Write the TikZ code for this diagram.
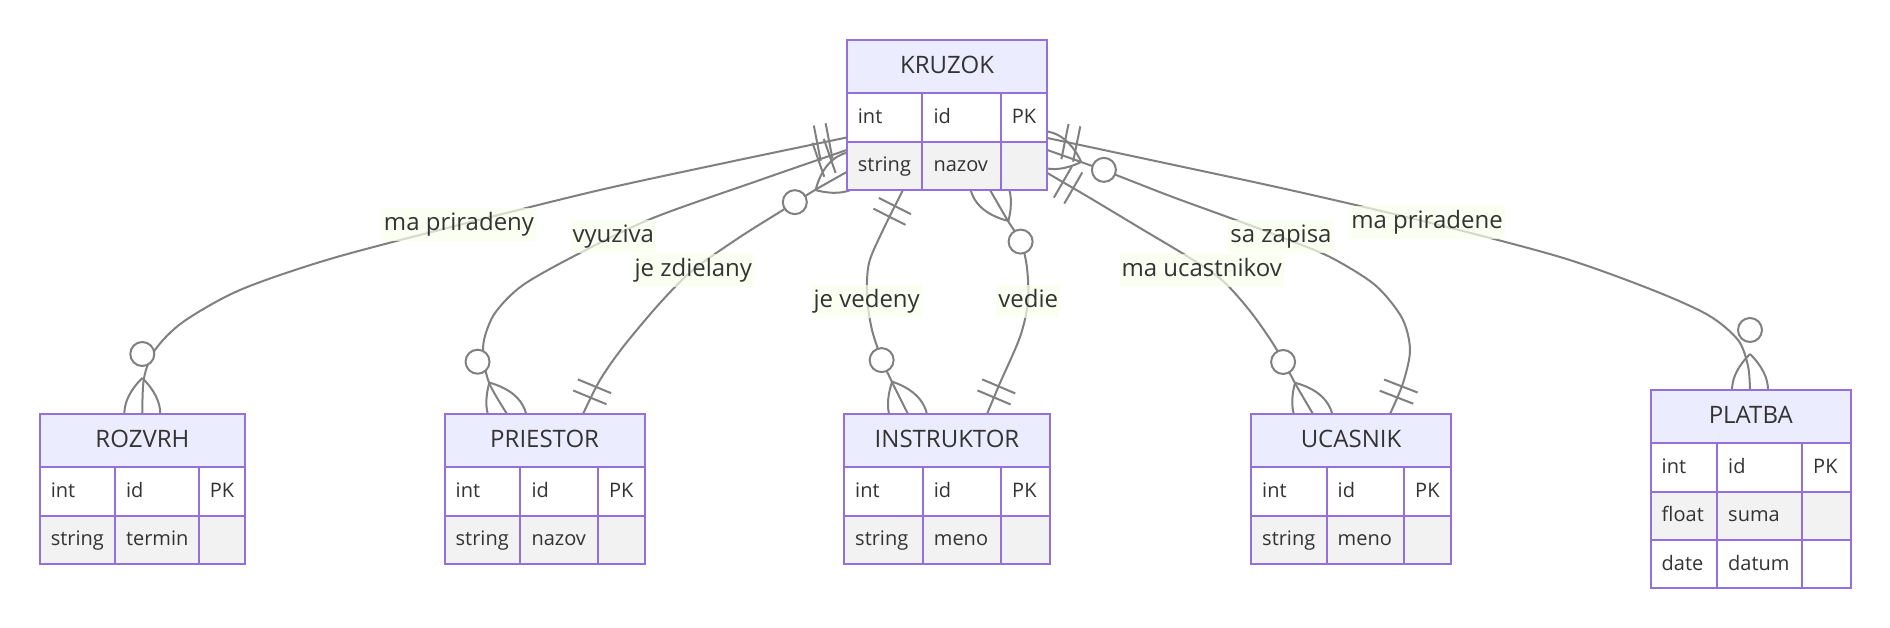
\documentclass[tikz,border=0pt]{standalone}
\usepackage{fontspec}
\setmainfont{Open Sans}
\usetikzlibrary{calc}
\definecolor{ebord}{HTML}{9370DB}
\definecolor{ehead}{HTML}{ECECFF}
\definecolor{eeven}{HTML}{F2F2F2}
\definecolor{etext}{HTML}{333333}
\definecolor{elabel}{RGB}{249,255,236}
\definecolor{eline}{HTML}{808080}
\tikzset{
  relline/.style={draw=eline, line width=2pt},
  cellbox/.style={draw=ebord, line width=2pt},
  etitle/.style={font=\fontsize{24}{29}\selectfont, text=etext, anchor=base, inner sep=0pt},
  eattr/.style={font=\fontsize{20}{24}\selectfont, text=etext, anchor=base west, inner sep=0pt},
  rlabel/.style={font=\fontsize{24}{29}\selectfont, text=etext, fill=elabel, fill opacity=0.7, text opacity=1, inner xsep=2pt, inner ysep=5.5pt, text height=17pt, text depth=5pt},
  frame/.style={inner sep=0pt, outer sep=0pt, anchor=north west},
}
\newcommand\entcols[4]{\def\ecL{#1}\def\ecA{#2}\def\ecB{#3}\def\ecR{#4}}
\newcommand\enthead[3]{%
  \draw[cellbox, fill=ehead] (\ecL,#2) rectangle (\ecR,{#2+53.3});
  \node[etitle] (#1-title) at ({(\ecL+\ecR)/2},{#2+33.3}) {#3};
}
\newcommand\entrow[7]{%
  \draw[cellbox, fill=#3] (\ecL,#2) rectangle (\ecA,{#2+48.3});
  \draw[cellbox, fill=#3] (\ecA,#2) rectangle (\ecB,{#2+48.3});
  \draw[cellbox, fill=#3] (\ecB,#2) rectangle (\ecR,{#2+48.3});
  \node[eattr] (#1-t#7) at ({\ecL+11},{#2+30}) {#4};
  \node[eattr] (#1-n#7) at ({\ecA+11},{#2+30}) {#5};
  \node[eattr] (#1-k#7) at ({\ecB+11},{#2+30}) {#6};
}
\newcommand\mkone[3]{%
  \coordinate (mkD) at ($(#1)+({100*(#2)},{100*(#3)})$);
  \coordinate (mkA) at ($(#1)!18pt!(mkD)$);
  \coordinate (mkB) at ($(#1)!30pt!(mkD)$);
  \draw[relline] ($(mkA)!18pt!90:(mkD)$) -- ($(mkA)!18pt!-90:(mkD)$);
  \draw[relline] ($(mkB)!18pt!90:(mkD)$) -- ($(mkB)!18pt!-90:(mkD)$);
}
\newcommand\mkmany[3]{%
  \coordinate (mkD) at ($(#1)+({100*(#2)},{100*(#3)})$);
  \coordinate (mkQ) at ($(#1)!36pt!(mkD)$);
  \coordinate (mkE) at ($(#1)!36pt!180:(mkD)$);
  \coordinate (mkU) at ($(#1)!12pt!(mkD)$);
  \coordinate (mkV) at ($(#1)!12pt!180:(mkD)$);
  \coordinate (mkC) at ($(#1)!60pt!(mkD)$);
  \draw[relline] (mkQ) .. controls ($(mkU)!24pt!90:(mkD)$) and ($(mkV)!24pt!90:(mkD)$) .. (mkE)
     .. controls ($(mkV)!24pt!-90:(mkD)$) and ($(mkU)!24pt!-90:(mkD)$) .. (mkQ);
  \draw[relline, fill=white] (mkC) circle[radius=12];
}
\begin{document}
\begin{tikzpicture}[x=1pt,y=-1pt]
\useasboundingbox (0,0) rectangle (1890,628);
\fill[white] (0,0) rectangle (1890,628);

% entity frames (geometry)
\node[frame, minimum width=200.6pt, minimum height=150pt] (kruzok) at (846.7,40) {};
\node[frame, minimum width=205.6pt, minimum height=150pt] (rozvrh) at (39.6,414) {};
\node[frame, minimum width=200.3pt, minimum height=150pt] (priestor) at (444.5,414) {};
\node[frame, minimum width=206pt, minimum height=150pt] (instruktor) at (844,414) {};
\node[frame, minimum width=200pt, minimum height=150pt] (ucasnik) at (1251,414) {};
\node[frame, minimum width=200.5pt, minimum height=198.3pt] (platba) at (1650.5,390) {};

% connector end points
\coordinate (E1s) at ($(kruzok.north west)+(0,97.5)$);
\coordinate (E1e) at ($(rozvrh.north west)+(102.7,0)$);
\coordinate (E2s) at ($(kruzok.north west)+(0,110)$);
\coordinate (E2e) at ($(priestor.north west)+(62.5,0)$);
\coordinate (E3k) at ($(kruzok.north west)+(0,132)$);
\coordinate (E3p) at ($(priestor.north west)+(138.5,0)$);
\coordinate (E4s) at ($(kruzok.south west)+(56.3,0)$);
\coordinate (E4e) at ($(instruktor.north west)+(64,0)$);
\coordinate (E5k) at ($(kruzok.south west)+(143.3,0)$);
\coordinate (E5i) at ($(instruktor.north west)+(143,0)$);
\coordinate (E6s) at ($(kruzok.north east)+(0,98)$);
\coordinate (E6e) at ($(platba.north west)+(99.5,0)$);
\coordinate (E7k) at ($(kruzok.north east)+(0,110)$);
\coordinate (E7u) at ($(ucasnik.north west)+(139,0)$);
\coordinate (E8s) at ($(kruzok.north east)+(0,133)$);
\coordinate (E8e) at ($(ucasnik.north west)+(62,0)$);

% connectors
\draw[relline] plot[smooth] coordinates {(E1s) (734,161) (600,190) (459,225) (330,259) (240,290) (183,322) (155,350) (144,378) (E1e)};
\draw[relline] plot[smooth] coordinates {(E2s) (760,180) (653,218) (580,253) (523,285) (495,313) (484,340) (484,362) (490,385) (E2e)};
\draw[relline] plot[smooth] coordinates {(E3k) (815,190) (783,210) (740,237) (693,270) (660,303) (623,347) (600,380) (E3p)};
\draw[relline] plot[smooth] coordinates {(E4s) (883,230) (869,263) (867,297) (872,330) (882,360) (892,382) (E4e)};
\draw[relline] plot[smooth] coordinates {(E5k) (1008,221) (1021,242) (1027,268) (1028,302) (1020,337) (1000,383) (E5i)};
\draw[relline] plot[smooth] coordinates {(E6s) (1160,162) (1290,190) (1427,222) (1560,257) (1650,289) (1708,315) (1738,340) (1748,366) (E6e)};
\draw[relline] plot[smooth] coordinates {(E7k) (1103,170) (1170,196) (1233,219) (1281,237) (1330,257) (1375,285) (1402,318) (1410,350) (1403,383) (E7u)};
\draw[relline] plot[smooth] coordinates {(E8s) (1090,198) (1140,228) (1190,258) (1223,281) (1250,311) (1272,342) (1286,366) (1296,385) (E8e)};

% markers
\mkone{E1s}{-0.98}{0.19}   \mkmany{E1e}{0}{-1}
\mkone{E2s}{-0.945}{0.327} \mkmany{E2e}{-0.49}{-0.87}
\mkmany{E3k}{-0.86}{0.5}   \mkone{E3p}{0.38}{-0.92}
\mkone{E4s}{-0.45}{0.89}   \mkmany{E4e}{-0.44}{-0.9}
\mkmany{E5k}{0.51}{0.86}   \mkone{E5i}{0.39}{-0.92}
\mkone{E6s}{0.98}{0.2}     \mkmany{E6e}{0}{-1}
\mkmany{E7k}{0.94}{0.33}   \mkone{E7u}{0.36}{-0.93}
\mkone{E8s}{0.865}{0.5}    \mkmany{E8e}{-0.5}{-0.87}

% entities
\entcols{846.7}{922.3}{1000.7}{1047.3}
\enthead{kruzok}{40}{KRUZOK}
\entrow{kruzok}{93.3}{white}{int}{id}{PK}{1}
\entrow{kruzok}{141.7}{eeven}{string}{nazov}{}{2}

\entcols{39.6}{114.8}{198.6}{245.2}
\enthead{rozvrh}{414}{ROZVRH}
\entrow{rozvrh}{467.3}{white}{int}{id}{PK}{1}
\entrow{rozvrh}{515.7}{eeven}{string}{termin}{}{2}

\entcols{444.5}{520.3}{598}{644.8}
\enthead{priestor}{414}{PRIESTOR}
\entrow{priestor}{467.3}{white}{int}{id}{PK}{1}
\entrow{priestor}{515.7}{eeven}{string}{nazov}{}{2}

\entcols{844}{922.7}{1001}{1050}
\enthead{instruktor}{414}{INSTRUKTOR}
\entrow{instruktor}{467.3}{white}{int}{id}{PK}{1}
\entrow{instruktor}{515.7}{eeven}{string}{meno}{}{2}

\entcols{1251}{1326.5}{1404}{1451}
\enthead{ucasnik}{414}{UCASNIK}
\entrow{ucasnik}{467.3}{white}{int}{id}{PK}{1}
\entrow{ucasnik}{515.7}{eeven}{string}{meno}{}{2}

\entcols{1650.5}{1717}{1802}{1851}
\enthead{platba}{390}{PLATBA}
\entrow{platba}{443.3}{white}{int}{id}{PK}{1}
\entrow{platba}{491.7}{eeven}{float}{suma}{}{2}
\entrow{platba}{540}{white}{date}{datum}{}{3}

% relationship labels
\node[rlabel] (l1) at (459,225) {ma priradeny};
\node[rlabel] (l2) at (613.3,236.7) {vyuziva};
\node[rlabel] (l3) at (693.3,270.3) {je zdielany};
\node[rlabel] (l4) at (866.7,301.7) {je vedeny};
\node[rlabel] (l5) at (1028.3,301.7) {vedie};
\node[rlabel] (l6) at (1201.7,270.3) {ma ucastnikov};
\node[rlabel] (l7) at (1281,236.7) {sa zapisa};
\node[rlabel] (l8) at (1427,222.3) {ma priradene};
\end{tikzpicture}
\end{document}
